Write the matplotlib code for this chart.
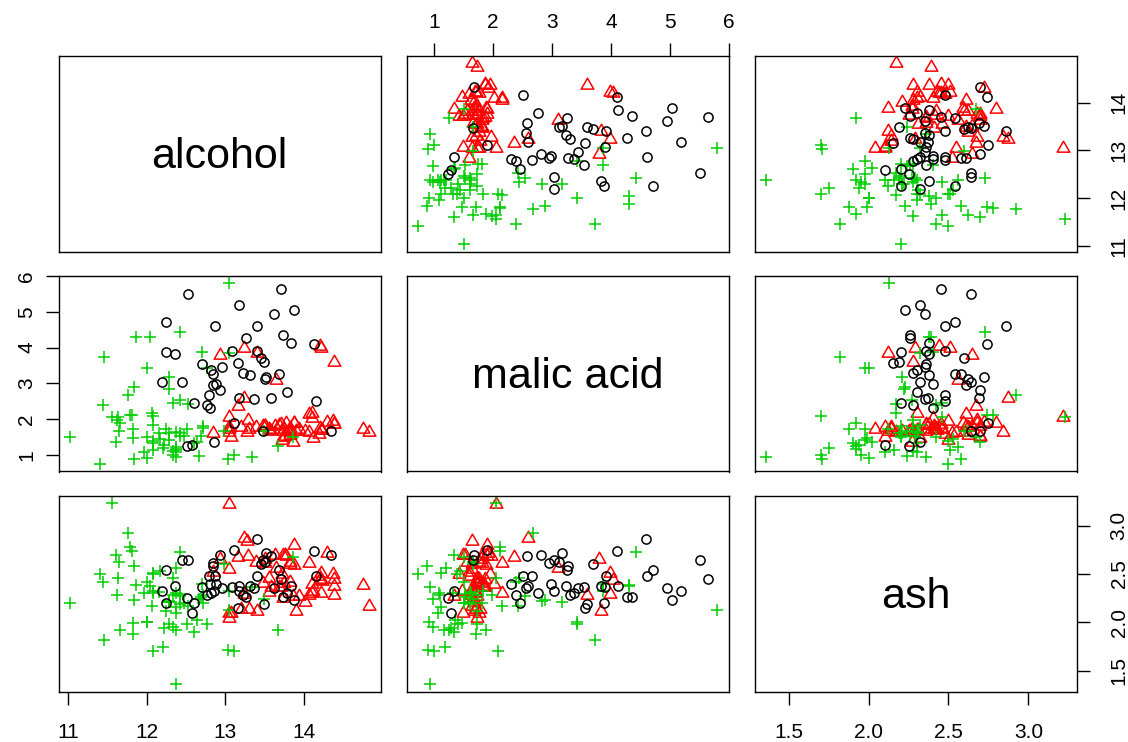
import matplotlib
matplotlib.use("Agg")
import matplotlib.pyplot as plt
from matplotlib.ticker import FixedLocator, FixedFormatter
from matplotlib.path import Path

plt.rcParams['font.family'] = ['Liberation Sans', 'DejaVu Sans']

# ---- data: wine (alcohol, malic acid, ash) by class ----
alcohol_1 = [14.23, 13.2, 13.16, 14.37, 13.24, 14.2, 14.39, 14.06, 14.83, 13.86, 14.1, 14.12, 13.75, 14.75,
             14.38, 13.63, 14.3, 13.83, 14.19, 13.64, 14.06, 12.93, 13.71, 12.85, 13.5, 13.05, 13.39, 13.3,
             13.87, 14.02, 13.73, 13.58, 13.68, 13.76, 13.51, 13.48, 13.28, 13.05, 13.07, 14.22, 13.56, 13.41,
             13.88, 13.24, 13.05, 14.21, 14.38, 13.9, 14.1, 13.94, 13.05, 13.83, 13.82, 13.77, 13.74, 13.56,
             14.22, 13.29, 13.72]
malic_1 = [1.71, 1.78, 2.36, 1.95, 2.59, 1.76, 1.87, 2.15, 1.64, 1.35, 2.16, 1.48, 1.73, 1.73,
           1.87, 1.81, 1.92, 1.57, 1.59, 3.1, 1.63, 3.8, 1.86, 1.6, 1.81, 2.05, 1.77, 1.72,
           1.9, 1.68, 1.5, 1.66, 1.83, 1.53, 1.8, 1.81, 1.64, 1.65, 1.5, 3.99, 1.71, 3.84,
           1.89, 3.98, 1.77, 4.04, 3.59, 1.68, 2.02, 1.73, 1.73, 1.65, 1.75, 1.9, 1.67, 1.73,
           1.7, 1.97, 1.43]
ash_1 = [2.43, 2.14, 2.67, 2.5, 2.87, 2.45, 2.45, 2.61, 2.17, 2.27, 2.3, 2.32, 2.41, 2.39,
         2.38, 2.7, 2.72, 2.62, 2.48, 2.56, 2.28, 2.65, 2.36, 2.52, 2.61, 3.22, 2.62, 2.14,
         2.8, 2.21, 2.7, 2.36, 2.36, 2.7, 2.65, 2.41, 2.84, 2.55, 2.1, 2.51, 2.31, 2.12,
         2.59, 2.29, 2.1, 2.44, 2.28, 2.12, 2.4, 2.27, 2.04, 2.6, 2.42, 2.68, 2.25, 2.46,
         2.3, 2.68, 2.5]

alcohol_2 = [12.37, 12.33, 12.64, 13.67, 12.37, 12.17, 12.37, 13.11, 12.37, 13.34, 12.21, 12.29, 13.86,
             13.49, 12.99, 11.96, 11.66, 13.03, 11.84, 12.33, 12.7, 12.0, 12.72, 12.08, 13.05, 11.84,
             12.67, 12.16, 11.65, 11.64, 12.08, 12.08, 12.0, 12.69, 12.29, 11.62, 12.47, 11.81, 12.29,
             12.37, 12.29, 12.08, 12.6, 12.34, 11.82, 12.51, 12.42, 12.25, 12.72, 12.22, 11.61, 11.46,
             12.52, 11.76, 11.41, 12.08, 11.03, 11.82, 12.42, 12.77, 12.0, 11.45, 11.56, 12.42, 13.05,
             11.87, 12.07, 12.43, 11.79, 12.37, 12.04]
malic_2 = [0.94, 1.1, 1.36, 1.25, 1.13, 1.45, 1.21, 1.01, 1.17, 0.94, 1.19, 1.61, 1.51,
           1.66, 1.67, 1.09, 1.88, 0.9, 2.89, 0.99, 3.87, 0.92, 1.81, 1.13, 3.86, 0.89,
           0.98, 1.61, 1.67, 2.06, 1.33, 1.83, 1.51, 1.53, 2.83, 1.99, 1.52, 2.12, 1.41,
           1.07, 3.17, 2.08, 1.34, 2.45, 1.72, 1.73, 2.55, 1.73, 1.75, 1.29, 1.35, 3.74,
           2.43, 2.68, 0.74, 1.39, 1.51, 1.47, 1.61, 3.43, 3.43, 2.4, 2.05, 4.43, 5.8,
           4.31, 2.16, 1.53, 2.13, 1.63, 4.3]
ash_2 = [1.36, 2.28, 2.02, 1.92, 2.16, 2.53, 2.56, 1.7, 1.92, 2.36, 1.75, 2.21, 2.67,
         2.24, 2.6, 2.3, 1.92, 1.71, 2.23, 1.95, 2.4, 2.0, 2.2, 2.51, 2.32, 2.58,
         2.24, 2.31, 2.62, 2.46, 2.3, 2.32, 2.42, 2.26, 2.22, 2.28, 2.2, 2.74, 1.98,
         2.1, 2.21, 1.7, 1.9, 2.46, 1.88, 1.98, 2.27, 2.12, 2.28, 1.94, 2.7, 1.82,
         2.17, 2.92, 2.5, 2.5, 2.2, 1.99, 2.19, 1.98, 2.0, 2.42, 3.23, 2.73, 2.13,
         2.39, 2.17, 2.29, 2.78, 2.3, 2.38]

alcohol_3 = [12.86, 12.88, 12.81, 12.7, 12.51, 12.6, 12.25, 12.53, 13.49, 12.84, 12.93, 13.36,
             13.52, 13.62, 12.25, 13.16, 13.88, 12.87, 13.32, 13.08, 13.5, 12.79, 13.11, 13.23,
             12.58, 13.17, 13.84, 12.45, 14.34, 13.48, 12.36, 13.69, 12.85, 12.96, 13.78, 13.73,
             13.45, 12.82, 13.58, 13.4, 12.2, 12.77, 14.16, 13.71, 13.4, 13.27, 13.17, 14.13]
malic_3 = [1.35, 2.99, 2.31, 3.55, 1.24, 2.46, 4.72, 5.51, 3.59, 2.96, 2.81, 2.56,
           3.17, 4.95, 3.88, 3.57, 5.04, 4.61, 3.24, 3.9, 3.12, 2.67, 1.9, 3.3,
           1.29, 5.19, 4.12, 3.03, 1.68, 1.67, 3.83, 3.26, 3.27, 3.45, 2.76, 4.36,
           3.7, 3.37, 2.58, 4.6, 3.03, 2.39, 2.51, 5.65, 3.91, 4.28, 2.59, 4.1]
ash_3 = [2.32, 2.4, 2.4, 2.36, 2.25, 2.2, 2.54, 2.64, 2.19, 2.61, 2.7, 2.35,
         2.72, 2.35, 2.2, 2.15, 2.23, 2.48, 2.38, 2.36, 2.62, 2.48, 2.75, 2.28,
         2.1, 2.32, 2.38, 2.64, 2.7, 2.64, 2.38, 2.54, 2.58, 2.35, 2.3, 2.26,
         2.6, 2.3, 2.69, 2.86, 2.32, 2.28, 2.48, 2.45, 2.48, 2.26, 2.37, 2.74]

var_names = ["alcohol", "malic acid", "ash"]
alcohol_ticks = [11, 12, 13, 14]
malic_ticks = [1, 2, 3, 4, 5, 6]
ash_ticks = [1.5, 2.0, 2.5, 3.0]
ash_tick_labels = ["1.5", "2.0", "2.5", "3.0"]

# ---- build ----
vars_by_class = [
    [alcohol_1, malic_1, ash_1],
    [alcohol_2, malic_2, ash_2],
    [alcohol_3, malic_3, ash_3],
]
tri = Path([(-1.0, -0.577), (1.0, -0.577), (0.0, 1.155), (-1.0, -0.577)],
           [Path.MOVETO, Path.LINETO, Path.LINETO, Path.CLOSEPOLY])
styles = [
    dict(marker=tri, color='#FF0000', ms=10.5),
    dict(marker='+', color='#00CD00', ms=8.8),
    dict(marker='o', color='black', ms=6.6),
]
ticks = [alcohol_ticks, malic_ticks, ash_ticks]
tick_labels = [[str(t) for t in alcohol_ticks], [str(t) for t in malic_ticks], ash_tick_labels]

def lim(i):
    allv = vars_by_class[0][i] + vars_by_class[1][i] + vars_by_class[2][i]
    lo, hi = min(allv), max(allv)
    r = hi - lo
    return lo - 0.04 * r, hi + 0.04 * r

W, H = 1128, 742
fig = plt.figure(figsize=(W / 100, H / 100), dpi=100)
col_left = [58.5, 406.5, 754.5]
row_top = [56, 276, 496]
pw, ph = 322.5, 195.5

TL = 9.5   # tick length (pt)
FS = 15

for r in range(3):
    for c in range(3):
        ax = fig.add_axes([col_left[c] / W, 1 - (row_top[r] + ph) / H, pw / W, ph / H])
        for s in ax.spines.values():
            s.set_linewidth(1.0)
        ax.set_xlim(*lim(c))
        ax.set_ylim(*lim(r))
        ax.tick_params(which='both', length=0, labelbottom=False, labelleft=False,
                       labeltop=False, labelright=False, bottom=False, left=False,
                       top=False, right=False)
        if r == c:
            ax.text(0.5, 0.484, var_names[r], transform=ax.transAxes, ha='center',
                    va='center', fontsize=31)
            ax.set_xticks([])
            ax.set_yticks([])
        else:
            for k in range(3):
                st = styles[k]
                ax.plot(vars_by_class[k][c], vars_by_class[k][r], linestyle='none',
                        marker=st['marker'], ms=st['ms'], mfc='none', mec=st['color'],
                        mew=1.1)
        # outer axes, R pairs style
        ax.xaxis.set_major_locator(FixedLocator(ticks[c]))
        ax.xaxis.set_major_formatter(FixedFormatter(tick_labels[c]))
        ax.yaxis.set_major_locator(FixedLocator(ticks[r]))
        ax.yaxis.set_major_formatter(FixedFormatter(tick_labels[r]))
        if r == 0 and c % 2 == 1:
            ax.tick_params(axis='x', top=True, labeltop=True, length=TL, width=1.0,
                           pad=8, labelsize=FS)
        if r == 2 and c % 2 == 0:
            ax.tick_params(axis='x', bottom=True, labelbottom=True, length=TL, width=1.0,
                           pad=13, labelsize=FS)
        if c == 0 and r % 2 == 1:
            ax.tick_params(axis='y', left=True, labelleft=True, length=TL, width=1.0,
                           pad=6.5, labelsize=FS, labelrotation=90)
            for lab in ax.get_yticklabels():
                lab.set_va('center')
        if c == 2 and r % 2 == 0:
            ax.tick_params(axis='y', right=True, labelright=True, length=TL, width=1.0,
                           pad=14, labelsize=FS, labelrotation=90)
            for lab in ax.get_yticklabels():
                lab.set_va('center')

fig.savefig("out.png", dpi=100)
